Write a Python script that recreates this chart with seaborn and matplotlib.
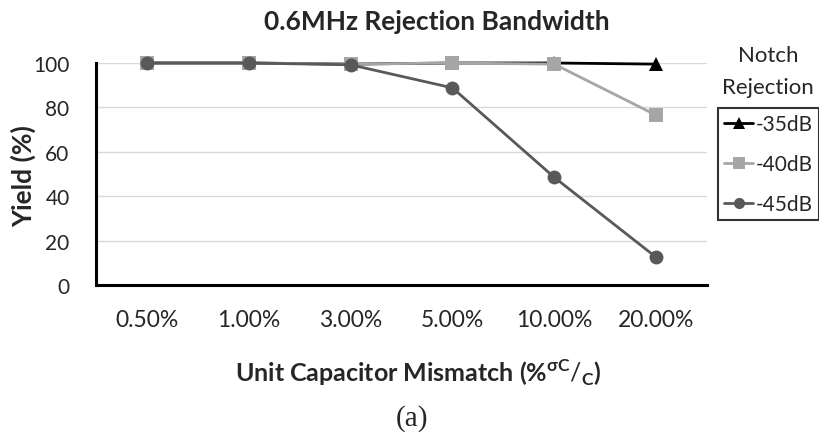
import matplotlib
matplotlib.use("Agg")
import matplotlib.pyplot as plt
import seaborn as sns
import pandas as pd

categories = ["0.50%", "1.00%", "3.00%", "5.00%", "10.00%", "20.00%"]
series_names = ["-35dB", "-40dB", "-45dB"]
yield_35 = [100, 100, 99.5, 100, 100, 99.5]
yield_40 = [100, 100, 99.5, 100, 99.5, 76.5]
yield_45 = [100, 100, 99.2, 88.8, 48.5, 12.5]

rows = []
for name, vals in zip(series_names, [yield_35, yield_40, yield_45]):
    for i, v in enumerate(vals):
        rows.append({"pos": i, "Yield": v, "series": name})
df = pd.DataFrame(rows)

sns.set_theme(style="white")
plt.rcParams["font.family"] = ["Lato", "DejaVu Sans"]
plt.rcParams["mathtext.fontset"] = "custom"
plt.rcParams["mathtext.rm"] = "Lato"
plt.rcParams["mathtext.bf"] = "Lato:bold"

fig = plt.figure(figsize=(8.19, 4.35), dpi=100)
ax = fig.add_axes([96 / 819, 1 - 286 / 435, (707 - 96) / 819, (286 - 64) / 435])

palette = {"-35dB": "#000000", "-40dB": "#a6a6a6", "-45dB": "#595959"}
markers = {"-35dB": "^", "-40dB": "s", "-45dB": "o"}
dashes = {k: "" for k in series_names}
sns.lineplot(data=df, x="pos", y="Yield", hue="series", style="series",
             palette=palette, markers=markers, dashes=dashes, sort=False,
             linewidth=2, markersize=10, markeredgewidth=0, ax=ax,
             legend=True, clip_on=False)

ax.set_xlim(-0.5, len(categories) - 0.5)
ax.set_ylim(0, 100)
ax.set_yticks([0, 20, 40, 60, 80, 100])
ax.yaxis.grid(True, color="#d9d9d9", linewidth=1)
ax.set_axisbelow(True)
ax.set_xticks([i - 0.5 for i in range(len(categories) + 1)])
ax.set_xticklabels([])
ax.set_xticks(range(len(categories)), minor=True)
ax.set_xticklabels(categories, minor=True, fontsize=16.5)
ax.tick_params(axis="x", which="major", length=7, width=1.8, direction="out", color="black")
ax.tick_params(axis="x", which="minor", length=0, pad=17)
ax.tick_params(axis="y", which="major", length=8, width=1.8, direction="out",
               labelsize=15, color="black", pad=11)
for s in ["top", "right"]:
    ax.spines[s].set_visible(False)
for s in ["left", "bottom"]:
    ax.spines[s].set_color("black")
    ax.spines[s].set_linewidth(2.2)

ax.set_xlabel("")
ax.set_ylabel("")
fig.text(24 / 819, 1 - 176 / 435, "Yield (%)", rotation=90, ha="center", va="center",
         fontsize=19, fontweight="bold")
fig.text(437 / 819, 1 - 22 / 435, "0.6MHz Rejection Bandwidth", ha="center", va="center",
         fontsize=19, fontweight="bold")
fig.text(418 / 819, 1 - 382 / 435,
         r"Unit Capacitor Mismatch (%$^{\mathbf{\sigma C}}/_{\mathbf{C}}$)",
         ha="center", va="baseline", fontsize=18, fontweight="bold")

handles, labels = ax.get_legend_handles_labels()
for h in handles:
    h.set_markersize(8)
leg = ax.legend(handles, labels, loc="upper left", bbox_to_anchor=(718 / 819, 1 - 109 / 435),
                bbox_transform=fig.transFigure, fontsize=15, frameon=True,
                handlelength=1.4, handletextpad=0.1, borderpad=0.3, labelspacing=0.95,
                fancybox=False, borderaxespad=0)
leg.get_frame().set_edgecolor("black")
leg.get_frame().set_linewidth(1.5)
fig.text(768 / 819, 1 - 56 / 435, "Notch", ha="center", va="center", fontsize=16)
fig.text(768 / 819, 1 - 88 / 435, "Rejection", ha="center", va="center", fontsize=16)
fig.text(412 / 819, 1 - 419 / 435, "(a)", ha="center", va="center", fontsize=21,
         family=["Liberation Serif"])

fig.savefig("out.png", dpi=100)
